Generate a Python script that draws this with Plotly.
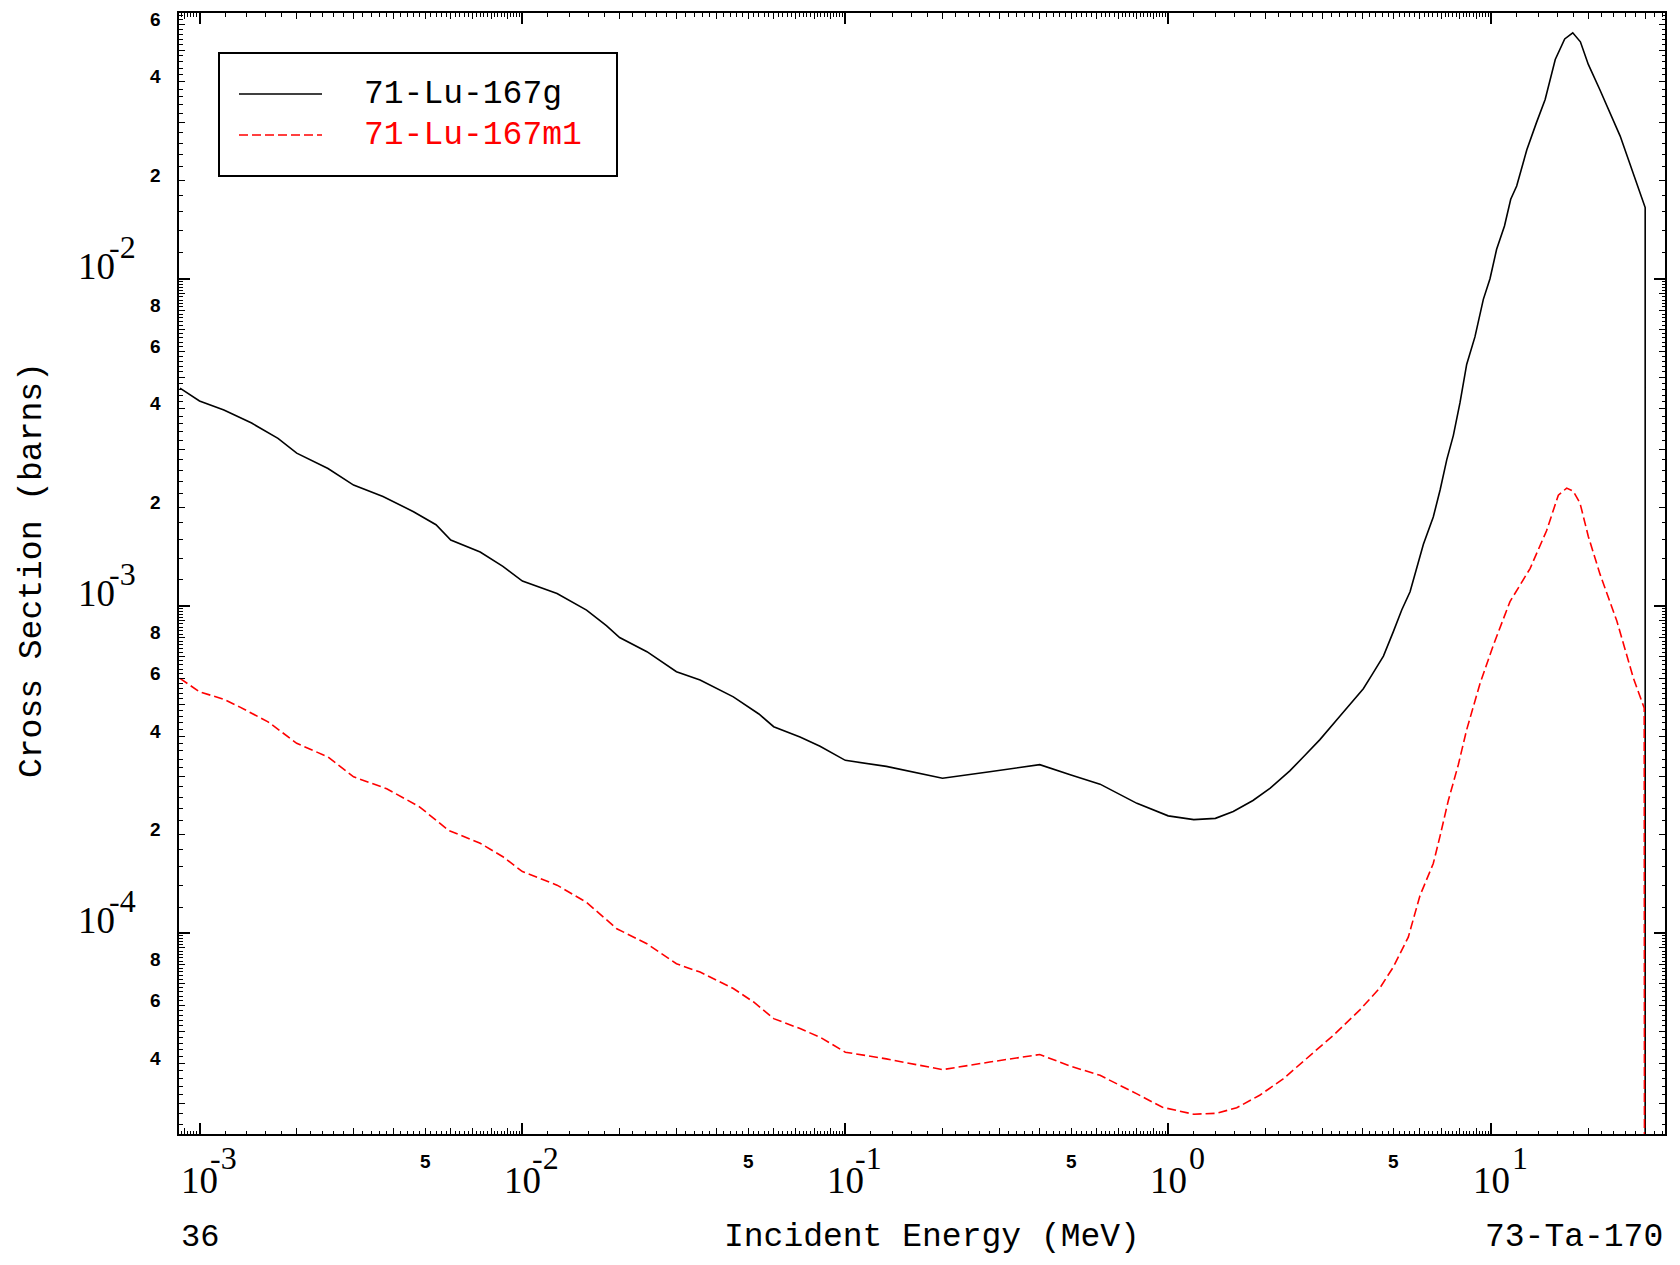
import math
import plotly.graph_objects as go

# 71-Lu-167g production cross section (barns) vs incident energy (MeV)
energy_g = [8.7e-4, 1.0e-3, 1.19e-3, 1.45e-3, 1.75e-3, 2.0e-3, 2.5e-3, 3.0e-3, 3.7e-3, 4.6e-3,
            5.4e-3, 6.0e-3, 7.4e-3, 8.7e-3, 1.0e-2, 1.28e-2, 1.58e-2, 1.82e-2, 2.0e-2, 2.43e-2,
            3.0e-2, 3.55e-2, 4.5e-2, 5.4e-2, 6.0e-2, 7.24e-2, 8.35e-2, 0.1, 0.134, 0.2,
            0.28, 0.4, 0.5, 0.615, 0.8, 1.0, 1.2, 1.4, 1.59, 1.83,
            2.07, 2.38, 2.62, 2.95, 3.4, 3.66, 4.02, 4.27, 4.64, 4.98,
            5.29, 5.61, 6.17, 6.62, 6.95, 7.29, 7.64, 8.01, 8.4, 8.91,
            9.46, 9.92, 10.4, 11.0, 11.5, 12.0, 12.9, 13.8, 14.7, 15.8,
            16.9, 17.9, 18.9, 20.0, 21.7, 25.1, 28.6, 30.0, 30.0]
xs_g = [4.63e-3, 4.23e-3, 3.97e-3, 3.62e-3, 3.25e-3, 2.93e-3, 2.63e-3, 2.34e-3, 2.16e-3, 1.94e-3,
        1.77e-3, 1.59e-3, 1.46e-3, 1.32e-3, 1.19e-3, 1.09e-3, 9.7e-4, 8.7e-4, 8.0e-4, 7.24e-4,
        6.29e-4, 5.93e-4, 5.27e-4, 4.67e-4, 4.27e-4, 3.97e-4, 3.72e-4, 3.37e-4, 3.23e-4, 2.97e-4,
        3.11e-4, 3.27e-4, 3.04e-4, 2.85e-4, 2.49e-4, 2.28e-4, 2.22e-4, 2.24e-4, 2.35e-4, 2.54e-4,
        2.77e-4, 3.13e-4, 3.45e-4, 3.90e-4, 4.60e-4, 5.01e-4, 5.58e-4, 6.14e-4, 7.02e-4, 8.34e-4,
        9.73e-4, 1.104e-3, 1.542e-3, 1.868e-3, 2.26e-3, 2.80e-3, 3.32e-3, 4.18e-3, 5.47e-3, 6.64e-3,
        8.65e-3, 1.0e-2, 1.23e-2, 1.45e-2, 1.75e-2, 1.92e-2, 2.48e-2, 2.99e-2, 3.53e-2, 4.68e-2,
        5.41e-2, 5.65e-2, 5.30e-2, 4.52e-2, 3.79e-2, 2.73e-2, 1.88e-2, 1.65e-2, 1e-9]

# 71-Lu-167m1
energy_m1 = [8.7e-4, 1.0e-3, 1.19e-3, 1.33e-3, 1.63e-3, 2.0e-3, 2.5e-3, 3.0e-3, 3.8e-3, 4.8e-3,
             5.9e-3, 7.4e-3, 8.7e-3, 1.0e-2, 1.28e-2, 1.58e-2, 1.96e-2, 2.43e-2, 3.0e-2, 3.55e-2,
             4.5e-2, 5.2e-2, 6.0e-2, 7.24e-2, 8.35e-2, 0.1, 0.134, 0.2, 0.28, 0.4,
             0.5, 0.615, 0.8, 0.96, 1.2, 1.41, 1.63, 1.92, 2.27, 2.69,
             3.25, 3.93, 4.53, 4.98, 5.54, 6.02, 6.62, 6.95, 7.37, 7.91,
             8.4, 9.24, 10.16, 11.44, 13.2, 14.86, 16.15, 17.14, 17.97, 18.85,
             20.0, 21.74, 24.5, 27.6, 29.8, 30.0]
xs_m1 = [6.0e-4, 5.46e-4, 5.18e-4, 4.91e-4, 4.42e-4, 3.80e-4, 3.45e-4, 3.0e-4, 2.76e-4, 2.43e-4,
         2.06e-4, 1.88e-4, 1.71e-4, 1.54e-4, 1.40e-4, 1.24e-4, 1.03e-4, 9.27e-5, 8.05e-5, 7.59e-5,
         6.76e-5, 6.15e-5, 5.47e-5, 5.10e-5, 4.80e-5, 4.32e-5, 4.12e-5, 3.82e-5, 4.03e-5, 4.25e-5,
         3.91e-5, 3.67e-5, 3.22e-5, 2.93e-5, 2.79e-5, 2.81e-5, 2.92e-5, 3.19e-5, 3.58e-5, 4.13e-5,
         4.87e-5, 5.83e-5, 6.80e-5, 7.87e-5, 9.71e-5, 1.30e-4, 1.63e-4, 1.98e-4, 2.54e-4, 3.26e-4,
         4.18e-4, 5.79e-4, 7.58e-4, 1.03e-3, 1.30e-3, 1.70e-3, 2.18e-3, 2.29e-3, 2.24e-3, 2.06e-3,
         1.63e-3, 1.25e-3, 9.0e-4, 6.0e-4, 4.87e-4, 1e-9]

series_names = ["71-Lu-167g", "71-Lu-167m1"]
series_colors = ["black", "red"]

x_decades = [1e-3, 1e-2, 1e-1, 1e0, 1e1]
x_exponents = ["-3", "-2", "-1", "0", "1"]
x_five_ticks = [5e-3, 5e-2, 5e-1, 5e0]
y_decades = [1e-4, 1e-3, 1e-2]
y_exponents = ["-4", "-3", "-2"]
y_minor_digits = [2, 4, 6, 8]

X_RANGE = [-3.0635, 1.5385]
Y_RANGE = [-4.6147, -1.1876]

W, H = 1680, 1265
ML, MR, MT, MB = 179, 15, 13, 131
PW, PH = W - ML - MR, H - MT - MB

MONO = "Liberation Mono"
SERIF = "Liberation Serif"
SANS = "Liberation Sans"
BASE_SIZE, EXP_SIZE = 37, 32


def in_range(v, rng):
    lv = math.log10(v)
    return rng[0] <= lv <= rng[1]


def tick_sets(rng):
    lo, hi = int(math.floor(rng[0])), int(math.ceil(rng[1]))
    major, mid, small = [], [], []
    for n in range(lo, hi + 1):
        base = 10.0 ** n
        major.append(base)
        for j in range(1, 45):
            v = (1 + 0.2 * j) * base
            if j % 5 == 0:
                mid.append(v)
            else:
                small.append(v)
    keep = lambda vals: [v for v in vals if in_range(v, rng)]
    return keep(major), keep(mid), keep(small)


xmaj, xmid, xsmall = tick_sets(X_RANGE)
ymaj, ymid, ysmall = tick_sets(Y_RANGE)

fig = go.Figure()
fig.add_trace(go.Scatter(x=energy_g, y=xs_g, mode="lines", name=series_names[0],
                         line=dict(color=series_colors[0], width=1.6), showlegend=False,
                         xaxis="x", yaxis="y"))
fig.add_trace(go.Scatter(x=energy_m1, y=xs_m1, mode="lines", name=series_names[1],
                         line=dict(color=series_colors[1], width=1.6, dash="9px,4px"),
                         showlegend=False, xaxis="x2", yaxis="y2"))

axis_common = dict(type="log", showgrid=False, zeroline=False, showticklabels=False,
                   showline=True, linecolor="black", linewidth=2, mirror="allticks",
                   ticks="inside", tickcolor="black")

fig.update_layout(
    width=W, height=H,
    margin=dict(l=ML, r=MR, t=MT, b=MB),
    paper_bgcolor="white", plot_bgcolor="white",
    xaxis=dict(axis_common, range=X_RANGE, tickmode="array", tickvals=xmaj,
               ticklen=11, tickwidth=1.8,
               minor=dict(tickmode="array", tickvals=xmid, ticks="inside", ticklen=6,
                          tickwidth=1.4, tickcolor="black", showgrid=False)),
    yaxis=dict(axis_common, range=Y_RANGE, tickmode="array", tickvals=ymaj,
               ticklen=11, tickwidth=1.8,
               minor=dict(tickmode="array", tickvals=ymid, ticks="inside", ticklen=6,
                          tickwidth=1.4, tickcolor="black", showgrid=False)),
    xaxis2=dict(axis_common, range=X_RANGE, overlaying="x", anchor="y2", side="bottom",
                tickmode="array", tickvals=xsmall, ticklen=3.5, tickwidth=1.2),
    yaxis2=dict(axis_common, range=Y_RANGE, overlaying="y", anchor="x2", side="left",
                tickmode="array", tickvals=ysmall, ticklen=3.5, tickwidth=1.2),
    showlegend=False,
)

ann = []
base_font = dict(family=SERIF, size=BASE_SIZE, color="black")
exp_font = dict(family=SERIF, size=EXP_SIZE, color="black")

# y decade labels: "10" with the exponent tucked in at its upper right
for v, e in zip(y_decades, y_exponents):
    if in_range(v, Y_RANGE):
        ann.append(dict(x=(117 - ML) / PW, xref="paper", y=math.log10(v), yref="y",
                        text="10", xanchor="right", yanchor="middle", yshift=12,
                        showarrow=False, font=base_font))
        ann.append(dict(x=(138 - ML) / PW, xref="paper", y=math.log10(v), yref="y",
                        text=e, xanchor="right", yanchor="middle", yshift=32,
                        showarrow=False, font=exp_font))
# y minor digit labels
for n in range(-5, 0):
    for d in y_minor_digits:
        v = d * 10.0 ** n
        if in_range(v, Y_RANGE):
            ann.append(dict(x=(155 - ML) / PW, xref="paper", y=math.log10(v), yref="y",
                            text="<b>%d</b>" % d, xanchor="center", yanchor="middle", yshift=5,
                            showarrow=False, font=dict(family=SANS, size=19, color="black")))
# x decade labels
for v, e in zip(x_decades, x_exponents):
    ann.append(dict(x=math.log10(v), xref="x", y=0, yref="paper", text="10",
                    xanchor="center", yanchor="middle", yshift=-46,
                    showarrow=False, font=base_font))
    ann.append(dict(x=math.log10(v), xref="x", y=0, yref="paper", text=e,
                    xanchor="right", yanchor="middle", xshift=39, yshift=-24,
                    showarrow=False, font=exp_font))
# x "5" labels
for v in x_five_ticks:
    ann.append(dict(x=math.log10(v), xref="x", y=0, yref="paper", text="<b>5</b>",
                    xanchor="center", yanchor="middle", yshift=-27,
                    showarrow=False, font=dict(family=SANS, size=19, color="black")))

bottom_y = -(1237 - (H - MB)) / PH
ann += [
    dict(x=0, xref="paper", y=bottom_y, yref="paper", text="36", xanchor="left",
         yanchor="middle", showarrow=False, font=dict(family=MONO, size=32, color="black")),
    dict(x=(932 - ML) / PW, xref="paper", y=bottom_y, yref="paper",
         text="Incident Energy (MeV)", xanchor="center", yanchor="middle",
         showarrow=False, font=dict(family=MONO, size=33, color="black")),
    dict(x=1, xref="paper", y=bottom_y, yref="paper", text="73-Ta-170", xanchor="right",
         yanchor="middle", showarrow=False, font=dict(family=MONO, size=33, color="black")),
    dict(x=(32 - ML) / PW, xref="paper", y=(H - MB - 570) / PH, yref="paper",
         text="Cross Section (barns)", textangle=-90, xanchor="center", yanchor="middle",
         showarrow=False, font=dict(family=MONO, size=33, color="black")),
]

# legend box
px = lambda X: (X - ML) / PW
py = lambda Y: (H - MB - Y) / PH
shapes = [dict(type="rect", xref="paper", yref="paper", x0=px(219), x1=px(617),
               y0=py(176), y1=py(53), line=dict(color="black", width=2),
               fillcolor="white", layer="above")]
for i, (name, color, ly) in enumerate(zip(series_names, series_colors, [94, 135])):
    shapes.append(dict(type="line", xref="paper", yref="paper", x0=px(239), x1=px(322),
                       y0=py(ly), y1=py(ly), layer="above",
                       line=dict(color=color, width=1.6, dash="solid" if i == 0 else "9px,4px")))
    ann.append(dict(x=px(362), xref="paper", y=py(ly), yref="paper", text=name,
                    xanchor="left", yanchor="middle", showarrow=False,
                    font=dict(family=MONO, size=33, color=color)))

fig.update_layout(annotations=ann, shapes=shapes)
# drop the browser's default body margin so the figure sits at the page origin
fig.write_html("out.html", config={"displayModeBar": False},
               post_script="document.body.style.margin='0px';")
